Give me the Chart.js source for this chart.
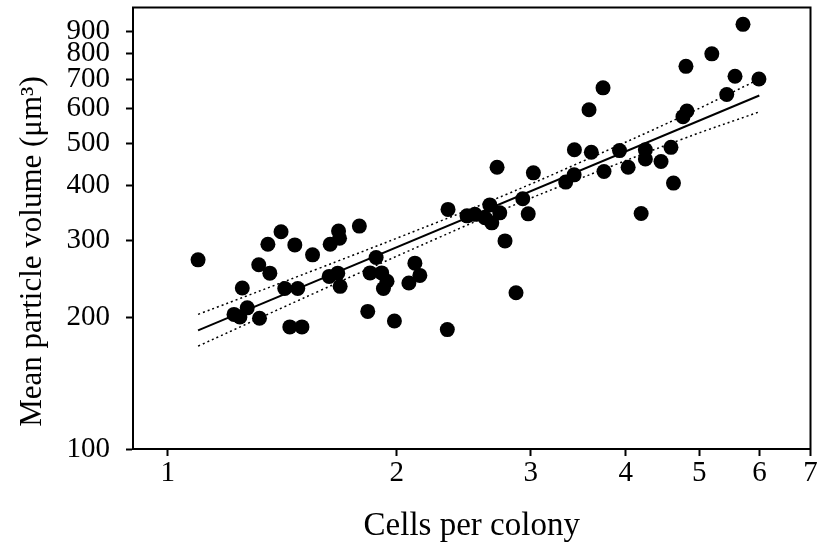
<!DOCTYPE html>
<html>
<head>
<meta charset="utf-8">
<script src="https://cdn.jsdelivr.net/npm/chart.js@4.4.1/dist/chart.umd.min.js"></script>
<style>
  body { margin: 0; background: #fff; }
</style>
</head>
<body>
<canvas id="grafica" width="818" height="551"></canvas>
<script>
// Datos
const cellsPerColony = [
  1.096, 1.409, 1.354, 1.469, 1.550, 1.635, 1.677, 1.682, 1.317, 1.362,
  1.253, 1.425, 1.482, 1.222, 1.244, 1.272, 1.320, 1.447, 1.501, 1.786,
  1.879, 1.630, 1.673, 1.685, 1.845, 1.911, 1.942, 1.921, 2.113, 2.145,
  2.075, 1.832, 1.986, 2.331, 2.336, 2.474, 2.534, 2.612, 2.651, 2.667,
  2.732, 2.710, 3.025, 2.929, 2.978, 2.776, 2.870, 3.425, 3.605, 3.422,
  3.336, 3.735, 3.580, 3.926, 4.246, 4.246, 4.452, 4.588, 3.746, 4.030,
  4.623, 4.192, 5.706, 5.192, 4.801, 5.570, 5.988, 5.432, 4.815, 4.758
];
const particleVolume = [
  270.5, 313.6, 293.5, 292.6, 277.7, 293.5, 314.7, 303.1, 263.6, 252.2,
  233.3, 232.6, 232.6, 203.0, 200.2, 210.1, 198.9, 190.1, 190.1, 323.0,
  273.8, 247.9, 252.2, 235.3, 252.5, 252.5, 241.6, 232.6, 265.8, 249.2,
  239.4, 206.2, 196.0, 187.4, 352.7, 340.9, 343.6, 337.4, 361.1, 328.6,
  346.3, 440.3, 427.4, 373.1, 344.5, 298.8, 227.5, 482.5, 476.2, 422.9,
  407.1, 668.4, 595.9, 480.5, 482.5, 459.9, 453.7, 488.8, 430.5, 440.3,
  405.0, 345.1, 933.4, 799.3, 748.4, 710.3, 700.4, 645.3, 591.9, 574.5
];

// Recta de regresión y bandas de confianza
const fitX = [1.096, 5.995];
const fitY = [186.7, 642.0];
const bandX = [1.096, 1.579, 2.267, 2.799, 3.456, 4.757, 5.995];
const bandUpper = [203.0, 258.5, 330.1, 382.8, 448.6, 576.3, 699.8];
const bandLower = [171.8, 229.3, 303.6, 355.8, 412.6, 511.1, 589.1];

// Marcas de los ejes
const xTicks = [1, 2, 3, 4, 5, 6, 7];
const yTicks = [100, 200, 300, 400, 500, 600, 700, 800, 900];

const toPoints = (xs, ys) => xs.map((x, i) => ({ x: x, y: ys[i] }));

const fuente = "'Liberation Serif', 'Times New Roman', serif";

// Marco alrededor del área de la gráfica
const marco = {
  id: "marco",
  afterDraw(chart) {
    const { ctx, chartArea: a } = chart;
    ctx.save();
    ctx.strokeStyle = "#000";
    ctx.lineWidth = 2;
    ctx.strokeRect(a.left, a.top, a.right - a.left, a.bottom - a.top);
    ctx.restore();
  },
};

const ctx = document.getElementById("grafica").getContext("2d");
new Chart(ctx, {
  type: "scatter",
  data: {
    datasets: [
      {
        label: "upper",
        data: toPoints(bandX, bandUpper),
        showLine: true,
        borderColor: "#000",
        borderWidth: 1.5,
        borderDash: [2, 3],
        pointRadius: 0,
        tension: 0.4,
      },
      {
        label: "lower",
        data: toPoints(bandX, bandLower),
        showLine: true,
        borderColor: "#000",
        borderWidth: 1.5,
        borderDash: [2, 3],
        pointRadius: 0,
        tension: 0.4,
      },
      {
        label: "fit",
        data: toPoints(fitX, fitY),
        showLine: true,
        borderColor: "#000",
        borderWidth: 2,
        pointRadius: 0,
      },
      {
        label: "colonies",
        data: toPoints(cellsPerColony, particleVolume),
        backgroundColor: "#000",
        borderWidth: 0,
        pointRadius: 7.5,
      },
    ],
  },
  options: {
    responsive: false,
    animation: false,
    layout: { padding: { top: 4, right: 6, left: 0, bottom: 0 } },
    plugins: {
      legend: { display: false },
      tooltip: { enabled: false },
    },
    scales: {
      x: {
        type: "logarithmic",
        min: 0.9,
        max: 7,
        afterBuildTicks: (scale) => {
          scale.ticks = xTicks.map((v) => ({ value: v }));
        },
        afterFit: (scale) => {
          scale.height = 102;
          scale.paddingLeft = 0;
          scale.paddingRight = 0;
        },
        border: { color: "#000", width: 2 },
        grid: {
          drawOnChartArea: false,
          drawTicks: true,
          tickLength: 7,
          tickWidth: 2,
          tickColor: "#000",
        },
        ticks: {
          autoSkip: false,
          maxRotation: 0,
          padding: 0,
          color: "#000",
          font: { family: fuente, size: 29 },
          callback: (v) => String(v),
        },
        title: {
          display: true,
          text: "Cells per colony",
          color: "#000",
          font: { family: fuente, size: 33 },
          padding: { top: 0, bottom: 5 },
        },
      },
      y: {
        type: "logarithmic",
        min: 100,
        max: 1020,
        afterBuildTicks: (scale) => {
          scale.ticks = yTicks.map((v) => ({ value: v }));
        },
        afterFit: (scale) => {
          scale.width = 133;
          scale.paddingTop = 0;
          scale.paddingBottom = 0;
        },
        border: { color: "#000", width: 2 },
        grid: {
          drawOnChartArea: false,
          drawTicks: true,
          tickLength: 7,
          tickWidth: 2,
          tickColor: "#000",
        },
        ticks: {
          autoSkip: false,
          padding: 16,
          color: "#000",
          font: { family: fuente, size: 29 },
          callback: (v) => String(v),
        },
        title: {
          display: true,
          text: "Mean particle volume (μm³)\u00A0\u00A0\u00A0\u00A0\u00A0\u00A0",
          color: "#000",
          font: { family: fuente, size: 31 },
          padding: { top: 14, bottom: 0 },
        },
      },
    },
  },
  plugins: [marco],
});
</script>
</body>
</html>
